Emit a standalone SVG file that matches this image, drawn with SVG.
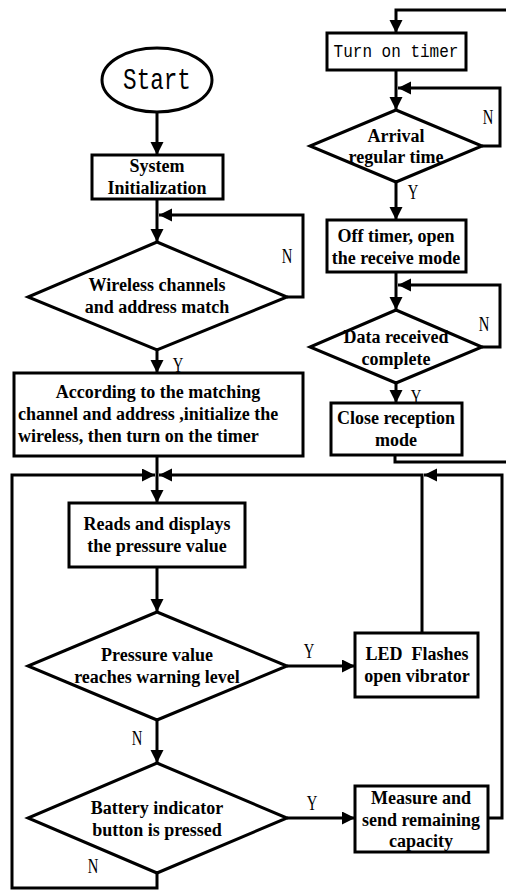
<svg xmlns="http://www.w3.org/2000/svg" width="506" height="890" viewBox="0 0 506 890">
<style>
.s{fill:none;stroke:#000;stroke-width:3}
.b{fill:#fff;stroke:#000;stroke-width:3}
.t{font-family:"Liberation Serif",serif;font-weight:bold;font-size:18px;text-anchor:middle;fill:#000}
.ts{font-family:"Liberation Serif",serif;font-weight:bold;font-size:18px;text-anchor:start;fill:#000}
.m{font-family:"Liberation Mono",monospace;font-size:16px;text-anchor:middle;fill:#000}
.big{font-size:26px}
.l{font-family:"Liberation Serif",serif;font-size:21px;text-anchor:middle;fill:#000}
</style>
<defs>
<marker id="a" markerUnits="userSpaceOnUse" markerWidth="14" markerHeight="14" refX="13" refY="6.5" orient="auto">
<path d="M0,0 L13,6.5 L0,13 z" fill="#000"/>
</marker>
</defs>
<rect width="506" height="890" fill="#fff"/>
<g id="connectors">
<path class="s" d="M157,112 V155" marker-end="url(#a)"/>
<path class="s" d="M157,199 V242" marker-end="url(#a)"/>
<path class="s" d="M287,297 H303 V215 H159" marker-end="url(#a)"/>
<path class="s" d="M157,350 V373" marker-end="url(#a)"/>
<path class="s" d="M157,456 V503" marker-end="url(#a)"/>
<path class="s" d="M157,567 V612" marker-end="url(#a)"/>
<path class="s" d="M287,666 H355" marker-end="url(#a)"/>
<path class="s" d="M422,633 V475 H159" marker-end="url(#a)"/>
<path class="s" d="M157,720 V763" marker-end="url(#a)"/>
<path class="s" d="M287,818 H355" marker-end="url(#a)"/>
<path class="s" d="M488,818 H502 V475 H424" marker-end="url(#a)"/>
<path class="s" d="M157,873 V888 H12 V475 H155" marker-end="url(#a)"/>
<path class="s" d="M510,10 H396 V33" marker-end="url(#a)"/>
<path class="s" d="M396,70 V110" marker-end="url(#a)"/>
<path class="s" d="M482,146 H500 V88 H398" marker-end="url(#a)"/>
<path class="s" d="M396,182 V220" marker-end="url(#a)"/>
<path class="s" d="M396,272 V310" marker-end="url(#a)"/>
<path class="s" d="M482,347 H500 V285 H398" marker-end="url(#a)"/>
<path class="s" d="M396,383 V403" marker-end="url(#a)"/>
<path class="s" d="M395,454 V462 H510"/>
<text class="l" transform="translate(287,263) scale(0.7,1)">N</text>
<text class="l" transform="translate(178,372) scale(0.7,1)">Y</text>
<text class="l" transform="translate(488,124) scale(0.7,1)">N</text>
<text class="l" transform="translate(413,199) scale(0.7,1)">Y</text>
<text class="l" transform="translate(484,331) scale(0.7,1)">N</text>
<text class="l" transform="translate(416,404) scale(0.7,1)">Y</text>
<text class="l" transform="translate(309,658) scale(0.7,1)">Y</text>
<text class="l" transform="translate(137,745) scale(0.7,1)">N</text>
<text class="l" transform="translate(312,810) scale(0.7,1)">Y</text>
<text class="l" transform="translate(93,873) scale(0.7,1)">N</text>
</g>
<g id="start">
<ellipse class="b" cx="157" cy="80" rx="55" ry="32"/>
<text class="m big" transform="translate(157,89) scale(0.87,1.1)">Start</text>
</g>
<g id="init">
<rect class="b" x="92" y="155" width="131" height="44"/>
<text class="t" x="157" y="172">System</text>
<text class="t" x="157" y="194">Initialization</text>
</g>
<g id="match">
<polygon class="b" points="157,242 287,297 157,350 28,297"/>
<text class="t" x="157" y="291">Wireless channels</text>
<text class="t" x="157" y="313">and address match</text>
</g>
<g id="initwireless">
<rect class="b" x="14" y="373" width="289" height="83"/>
<text class="t" x="158" y="398">According to the matching</text>
<text class="ts" x="18" y="420">channel and address ,initialize the</text>
<text class="ts" x="18" y="442">wireless, then turn on the timer</text>
</g>
<g id="reads">
<rect class="b" x="69" y="503" width="176" height="64"/>
<text class="t" x="157" y="530">Reads and displays</text>
<text class="t" x="157" y="552">the pressure value</text>
</g>
<g id="pressure">
<polygon class="b" points="157,612 287,666 157,720 28,666"/>
<text class="t" x="157" y="661">Pressure value</text>
<text class="t" x="157" y="683">reaches warning level</text>
</g>
<g id="led">
<rect class="b" x="355" y="633" width="123" height="64"/>
<text class="t" x="417" y="660" xml:space="preserve">LED  Flashes</text>
<text class="t" x="417" y="682">open vibrator</text>
</g>
<g id="battery">
<polygon class="b" points="157,763 287,818 157,873 28,818"/>
<text class="t" x="157" y="814">Battery indicator</text>
<text class="t" x="157" y="836">button is pressed</text>
</g>
<g id="measure">
<rect class="b" x="355" y="786" width="133" height="66"/>
<text class="t" x="421" y="804">Measure and</text>
<text class="t" x="421" y="826">send remaining</text>
<text class="t" x="421" y="847">capacity</text>
</g>
<g id="timer">
<rect class="b" x="327" y="33" width="139" height="37"/>
<text class="m" transform="translate(396,57) scale(1,1.15)">Turn on timer</text>
</g>
<g id="arrival">
<polygon class="b" points="396,110 482,146 396,182 310,146"/>
<text class="t" x="396" y="142">Arrival</text>
<text class="t" x="396" y="163">regular time</text>
</g>
<g id="offtimer">
<rect class="b" x="327" y="220" width="139" height="52"/>
<text class="t" x="396" y="242">Off timer, open</text>
<text class="t" x="396" y="264">the receive mode</text>
</g>
<g id="datareceived">
<polygon class="b" points="396,310 482,347 396,383 310,347"/>
<text class="t" x="396" y="343">Data received</text>
<text class="t" x="396" y="365">complete</text>
</g>
<g id="close">
<rect class="b" x="331" y="403" width="131" height="52"/>
<text class="t" x="396" y="424">Close reception</text>
<text class="t" x="396" y="446">mode</text>
</g>
</svg>
